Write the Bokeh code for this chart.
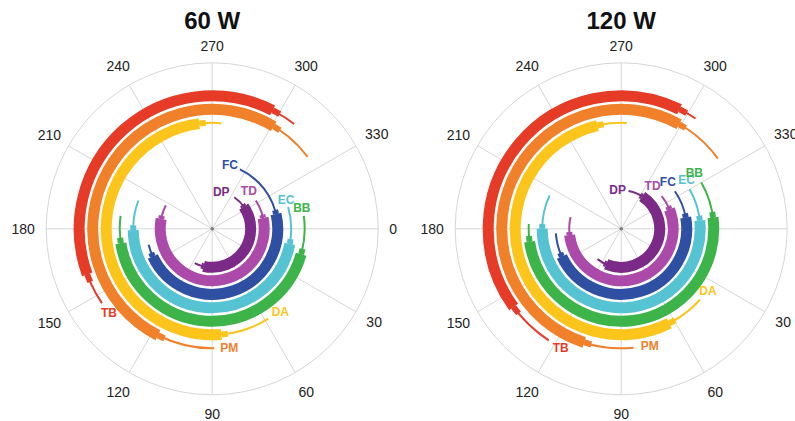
import numpy as np
from bokeh.plotting import figure
from bokeh.layouts import row
from bokeh.models import Range1d, ColumnDataSource
from bokeh.core.properties import value
from bokeh.embed import file_html
from bokeh.resources import INLINE

# Groups from the innermost ring outwards
groups = ["DP", "TD", "FC", "EC", "BB", "DA", "PM", "TB"]
colors = ["#7b2a87", "#ab4aa8", "#2f4fa2", "#56c3d2", "#3cb44a",
          "#fcc51c", "#f0802a", "#e63b26"]

# Phase angles in degrees (0 = right, increasing clockwise)
# 60 W
w60_min = [-55, -33, -65, -16, -8, 58, 89, 146]
w60_q1 = [-35, -12, -13, 11, 16, 85, 117, 160]
w60_q3 = [103, 191, 155, 179, 171, 263, 301, 297]
w60_max = [117, 207, 166, 201, 188, 275, 323, 308]
# 120 W
w120_min = [-79, -39, -35, -30, -30, 42, 84, 123]
w120_q1 = [-57, -22, -10, -6, -7, 63, 108, 144]
w120_q3 = [113, 173, 155, 180, 172, 257, 299, 296]
w120_max = [128, 193, 176, 205, 183, 273, 324, 304]

tick_angles = list(range(0, 360, 30))

# ---- layout (pixels) ----
CX, CY = 211.7, 228.3          # pole position inside each panel
H = 421
R_OUT = 166
RING0, RING_STEP = 38.5, 13.5
THICK, STEP_W, STEP_DEG = 11, 6, 3.5
FONT = "Liberation Sans"
# distance of each angle label from the pole
tick_r = [181, 187, 188, 185, 188, 188, 189, 188, 188, 183, 188, 190]

# label offsets (screen px) from the start of each range arc
lab60_dx = [-13, -7, -10, -2, -2, 12, 15, 7]
lab60_dy = [-5, -9, -4, -7, -8, -7, 0, 10]
lab120_dx = [-11, -9, -7, -3, -7, 8, 16, 12]
lab120_dy = [-1, -10, -9, -9, -10, -9, -2, 8]


def panel(title, mins, q1s, q3s, maxs, ldx, ldy, width):
    p = figure(width=width, height=H, output_backend="svg", toolbar_location=None,
               x_range=Range1d(-CX, width - CX), y_range=Range1d(CY - H, CY),
               x_axis_type=None, y_axis_type=None, min_border=0,
               outline_line_color=None, background_fill_color="white")
    p.grid.visible = False

    # polar grid: spokes and outer circle
    th = np.radians(tick_angles)
    p.segment(x0=0, y0=0, x1=R_OUT * np.cos(th), y1=-R_OUT * np.sin(th),
              line_color="#d6d6d6", line_width=1)
    p.arc(x=0, y=0, radius=R_OUT, start_angle=0, end_angle=2 * np.pi,
          line_color="#d6d6d6", line_width=1)
    p.scatter(x=[0], y=[0], size=2.5, color="#777777")

    rt = np.array(tick_r)
    p.text(x=rt * np.cos(th), y=-rt * np.sin(th), text=[str(a) for a in tick_angles],
           text_font=value(FONT), text_font_size="14px", text_color="#222222",
           text_align="center", text_baseline="middle")

    radii = [RING0 + RING_STEP * i for i in range(len(groups))]
    q1r = np.radians(q1s)
    q3r = np.radians(q3s)
    st = np.radians(STEP_DEG)
    src = ColumnDataSource(dict(
        r=radii, color=colors, name=groups,
        a0=-np.radians(mins), a1=-np.radians(maxs),
        b0=-q1r, b1=-q3r,
        c0=-(q1r - st), c1=-(q3r + st),
        lx=[r * np.cos(np.radians(v)) for r, v in zip(radii, mins)],
        ly=[-r * np.sin(np.radians(v)) for r, v in zip(radii, mins)],
        dx=ldx, dy=ldy,
    ))
    # full range (thin), short steps, interquartile range (thick)
    p.arc(x=0, y=0, radius="r", start_angle="a0", end_angle="a1", direction="clock",
          line_color="color", line_width=2, source=src)
    p.arc(x=0, y=0, radius="r", start_angle="c0", end_angle="b0", direction="clock",
          line_color="color", line_width=STEP_W, source=src)
    p.arc(x=0, y=0, radius="r", start_angle="b1", end_angle="c1", direction="clock",
          line_color="color", line_width=STEP_W, source=src)
    p.arc(x=0, y=0, radius="r", start_angle="b0", end_angle="b1", direction="clock",
          line_color="color", line_width=THICK, source=src)
    p.text(x="lx", y="ly", text="name", x_offset="dx", y_offset="dy", source=src,
           text_font=value(FONT), text_font_style="bold", text_font_size="12px",
           text_color="color", text_align="center", text_baseline="middle")

    p.text(x=[0], y=[CY - 20], text=[title], text_font=value(FONT),
           text_font_style="bold", text_font_size="24px", text_color="#111111",
           text_align="center", text_baseline="middle")
    return p


p1 = panel("60 W", w60_min, w60_q1, w60_q3, w60_max, lab60_dx, lab60_dy, 409)
p2 = panel("120 W", w120_min, w120_q1, w120_q3, w120_max, lab120_dx, lab120_dy, 386)
layout = row(p1, p2, spacing=0)

open("out.html", "w").write(file_html(layout, INLINE))
